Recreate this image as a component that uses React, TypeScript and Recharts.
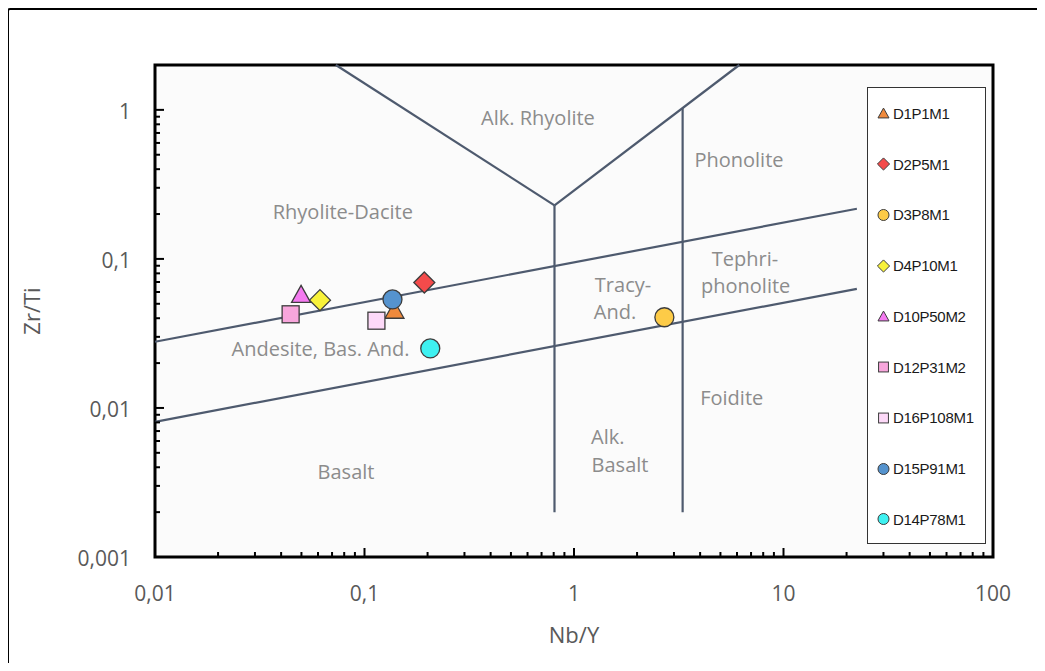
import React from "react";
import {
  ScatterChart,
  Scatter,
  XAxis,
  YAxis,
  CartesianGrid,
  ReferenceLine,
  ReferenceArea,
  ReferenceDot,
} from "recharts";

// samples (Nb/Y vs Zr/Ti)
const sampleNames = [
  "D1P1M1",
  "D2P5M1",
  "D3P8M1",
  "D4P10M1",
  "D10P50M2",
  "D12P31M2",
  "D16P108M1",
  "D15P91M1",
  "D14P78M1",
];
const nbY = [0.139, 0.193, 2.7, 0.0613, 0.0498, 0.0444, 0.114, 0.136, 0.206];
const zrTi = [0.0456, 0.0695, 0.0406, 0.0529, 0.0583, 0.0425, 0.0385, 0.0535, 0.0251];
const markerShapes = [
  "triangle",
  "diamond",
  "circle",
  "diamond",
  "triangle",
  "square",
  "square",
  "circle",
  "circle",
];
const markerColors = [
  "#F08A3C",
  "#F44B4B",
  "#FDCB47",
  "#F8F23A",
  "#F47AF0",
  "#F8A6DC",
  "#FDD9F8",
  "#5593CE",
  "#3EF1F1",
];

// field boundaries (Winchester & Floyd)
const boundaryX1 = [0.01, 0.01, 0.073, 0.807, 0.807, 3.3];
const boundaryY1 = [0.0278, 0.00807, 2, 0.2288, 0.2288, 1.03];
const boundaryX2 = [22.4, 22.4, 0.807, 6.15, 0.807, 3.3];
const boundaryY2 = [0.217, 0.063, 0.2288, 2, 0.002, 0.002];

// field names
const regionNames = [
  "Alk. Rhyolite",
  "Phonolite",
  "Rhyolite-Dacite",
  "Tephri-",
  "phonolite",
  "Tracy-",
  "And.",
  "Andesite, Bas. And.",
  "Foidite",
  "Alk.",
  "Basalt",
  "Basalt",
];
const regionX = [0.673, 6.13, 0.0788, 6.55, 6.6, 1.714, 1.57, 0.0617, 5.66, 1.449, 1.658, 0.0816];
const regionY = [0.887, 0.464, 0.2064, 0.0995, 0.0656, 0.0667, 0.0441, 0.0249, 0.01163, 0.00638, 0.00416, 0.003736];

const xDecades = [0.01, 0.1, 1, 10, 100];
const yDecades = [0.001, 0.01, 0.1, 1];
const minorSteps = [2, 3, 4, 5, 6, 7, 8, 9];
const X_MAX = 100;
const Y_MAX = 2;

const withMinor = (decades: number[], max: number) => {
  const out: number[] = [];
  decades.forEach((d) => {
    out.push(d);
    minorSteps.forEach((m) => {
      const v = Number((d * m).toPrecision(6));
      if (v <= max) out.push(v);
    });
  });
  return out.sort((a, b) => a - b);
};
const xTicks = withMinor(xDecades, X_MAX);
const yTicks = withMinor(yDecades, Y_MAX);

const isMajor = (v: number) =>
  Math.abs(Math.log10(v) - Math.round(Math.log10(v))) < 1e-6;
const fmt = (v: number) => String(v).replace(".", ",");

const LINE_COLOR = "#4e5a6e";
const TICK_COLOR = "#595959";
const FIELD_COLOR = "#8c8c8c";
const FONT = "'Open Sans', sans-serif";

const XTick = (props: any) => {
  const { x, y, payload } = props;
  const major = isMajor(payload.value);
  return (
    <g>
      <line x1={x} x2={x} y1={y} y2={y - (major ? 9 : 5)} stroke="#000" strokeWidth={2} />
      {major && (
        <text
          x={x}
          y={y + 36}
          textAnchor="middle"
          dominantBaseline="central"
          fill={TICK_COLOR}
          fontSize={21}
          fontFamily={FONT}
        >
          {fmt(payload.value)}
        </text>
      )}
    </g>
  );
};

const YTick = (props: any) => {
  const { x, y, payload } = props;
  const major = isMajor(payload.value);
  return (
    <g>
      <line x1={x} x2={x + (major ? 9 : 5)} y1={y} y2={y} stroke="#000" strokeWidth={2} />
      {major && (
        <text
          x={x - 24}
          y={y + 1}
          textAnchor="end"
          dominantBaseline="central"
          fill={TICK_COLOR}
          fontSize={21}
          fontFamily={FONT}
        >
          {fmt(payload.value)}
        </text>
      )}
    </g>
  );
};

const Marker = ({ cx, cy, shape, color, scale = 1 }: any) => {
  const stroke = "#3c3c3c";
  const sw = scale < 1 ? 1 : 1.3;
  if (shape === "circle") {
    return <circle cx={cx} cy={cy} r={9.5 * scale} fill={color} stroke={stroke} strokeWidth={sw} />;
  }
  if (shape === "square") {
    const h = 8.5 * scale;
    return <rect x={cx - h} y={cy - h} width={2 * h} height={2 * h} fill={color} stroke={stroke} strokeWidth={sw} />;
  }
  if (shape === "diamond") {
    const h = 10.5 * scale;
    return (
      <polygon
        points={`${cx},${cy - h} ${cx + h},${cy} ${cx},${cy + h} ${cx - h},${cy}`}
        fill={color}
        stroke={stroke}
        strokeWidth={sw}
      />
    );
  }
  const w = 9.5 * scale;
  const h = 8.5 * scale;
  return (
    <polygon
      points={`${cx},${cy - h} ${cx + w},${cy + h} ${cx - w},${cy + h}`}
      fill={color}
      stroke={stroke}
      strokeWidth={sw}
    />
  );
};

const LegendBox = () => (
  <div
    style={{
      position: "absolute",
      left: 867,
      top: 87,
      width: 119,
      height: 457,
      boxSizing: "border-box",
      border: "1.5px solid #333",
      background: "#fff",
    }}
  >
    {sampleNames.map((name, i) => (
      <div
        key={name}
        style={{
          position: "absolute",
          left: 8,
          top: 25.3 + i * 50.75 - 10,
          height: 20,
          display: "flex",
          alignItems: "center",
        }}
      >
        <svg width={16} height={20}>
          <Marker cx={7.5} cy={10} shape={markerShapes[i]} color={markerColors[i]} scale={0.58} />
        </svg>
        <span
          style={{
            marginLeft: 1,
            fontFamily: "'Liberation Sans', Arial, sans-serif",
            fontSize: 15,
            color: "#1a1a1a",
            letterSpacing: -0.3,
          }}
        >
          {name}
        </span>
      </div>
    ))}
  </div>
);

export default function App() {
  return (
    <div
      style={{
        position: "relative",
        width: 1045,
        height: 671,
        margin: -8,
        overflow: "hidden",
        background: "#fff",
      }}
    >
      <div
        style={{
          position: "absolute",
          left: 7,
          top: 8,
          width: 1100,
          height: 720,
          border: "2.5px solid #000",
          borderRadius: 3,
        }}
      />
      <div style={{ position: "absolute", left: 0, top: 0 }}>
        <ScatterChart
          width={1045}
          height={671}
          margin={{ top: 65, right: 52, bottom: 23, left: 8 }}
        >
          <CartesianGrid horizontal={false} vertical={false} fill="#fbfbfb" />
          <XAxis
            type="number"
            dataKey="x"
            scale="log"
            domain={[0.01, X_MAX]}
            allowDataOverflow
            ticks={xTicks}
            interval={0}
            height={91}
            tickSize={0}
            tickMargin={0}
            axisLine={false}
            tickLine={false}
            tick={<XTick />}
            label={{
              value: "Nb/Y",
              position: "insideBottom",
              offset: 5,
              fill: TICK_COLOR,
              fontSize: 22,
              fontFamily: FONT,
            }}
          />
          <YAxis
            type="number"
            dataKey="y"
            scale="log"
            domain={[0.001, Y_MAX]}
            allowDataOverflow
            ticks={yTicks}
            interval={0}
            width={147}
            tickSize={0}
            tickMargin={0}
            axisLine={false}
            tickLine={false}
            tick={<YTick />}
            label={{
              value: "Zr/Ti",
              angle: -90,
              position: "insideLeft",
              offset: 24,
              fill: TICK_COLOR,
              fontSize: 22,
              fontFamily: FONT,
              style: { textAnchor: "middle" },
            }}
          />
          {regionNames.map((name, i) => (
            <ReferenceDot
              key={`r${i}`}
              x={regionX[i]}
              y={regionY[i]}
              r={0}
              fill="none"
              stroke="none"
              label={{
                value: name,
                position: "center",
                fill: FIELD_COLOR,
                fontSize: 20,
                fontFamily: FONT,
              }}
            />
          ))}
          {boundaryX1.map((_, i) => (
            <ReferenceLine
              key={`b${i}`}
              segment={[
                { x: boundaryX1[i], y: boundaryY1[i] },
                { x: boundaryX2[i], y: boundaryY2[i] },
              ]}
              stroke={LINE_COLOR}
              strokeWidth={2.2}
              ifOverflow="visible"
            />
          ))}
          <ReferenceArea
            x1={0.01}
            x2={X_MAX}
            y1={0.001}
            y2={Y_MAX}
            fill="none"
            stroke="#000"
            strokeWidth={3}
            ifOverflow="visible"
          />
          {sampleNames.map((name, i) => (
            <Scatter
              key={name}
              name={name}
              data={[{ x: nbY[i], y: zrTi[i] }]}
              isAnimationActive={false}
              shape={(p: any) => (
                <Marker cx={p.cx} cy={p.cy} shape={markerShapes[i]} color={markerColors[i]} />
              )}
            />
          ))}
        </ScatterChart>
      </div>
      <LegendBox />
    </div>
  );
}
